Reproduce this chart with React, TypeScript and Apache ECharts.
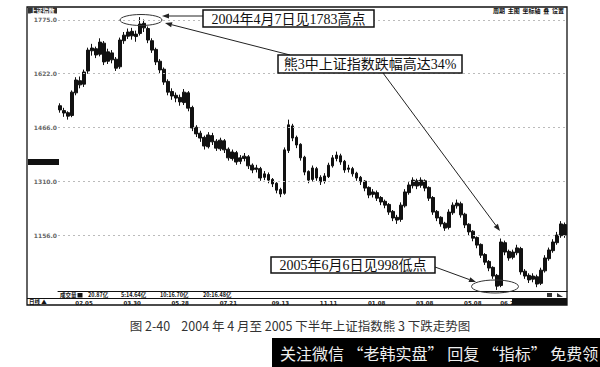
import React, { useEffect, useRef } from "react";
import * as echarts from "echarts";

// y-axis tick labels (index points)
const yTicks = [1775, 1622, 1466, 1310, 1156];
// x-axis date labels and the candle index where each one sits
const dateLabels = ["02.05", "03.30", "05.28", "07.21", "09.13", "11.11", "01.08", "03.08", "05.08", "06.28"];
const dateIndex = [6, 18, 30, 42, 55, 67, 79, 91, 103, 112];
// volume info row
const volTexts = ["成交量", "20.87亿", "5:14.64亿", "10:16.70亿", "20:16.48亿"];
// candles: [open, close, low, high]
const candles: number[][] = [
  [1528, 1516, 1508, 1535], [1514, 1507, 1496, 1522], [1508, 1498, 1488, 1512], [1500, 1567, 1495, 1572],
  [1565, 1602, 1558, 1610], [1600, 1588, 1578, 1612], [1590, 1625, 1582, 1632], [1628, 1688, 1620, 1695],
  [1686, 1694, 1672, 1706], [1692, 1674, 1665, 1698], [1676, 1711, 1670, 1722], [1708, 1654, 1645, 1714],
  [1656, 1683, 1648, 1692], [1680, 1660, 1650, 1688], [1662, 1636, 1628, 1668], [1640, 1717, 1634, 1724],
  [1715, 1731, 1706, 1740], [1728, 1740, 1720, 1750], [1742, 1729, 1718, 1752], [1727, 1734, 1712, 1744],
  [1736, 1763, 1730, 1783], [1765, 1752, 1740, 1776], [1750, 1717, 1708, 1756], [1715, 1688, 1680, 1722],
  [1690, 1654, 1645, 1695], [1656, 1631, 1622, 1662], [1633, 1596, 1588, 1638], [1598, 1567, 1558, 1604],
  [1569, 1556, 1545, 1578], [1558, 1550, 1538, 1566], [1552, 1539, 1528, 1560], [1537, 1567, 1530, 1576],
  [1565, 1521, 1512, 1570], [1523, 1464, 1455, 1528], [1466, 1447, 1438, 1472], [1449, 1435, 1424, 1456],
  [1437, 1412, 1402, 1442], [1410, 1444, 1405, 1452], [1442, 1424, 1415, 1450], [1426, 1406, 1398, 1432],
  [1404, 1429, 1398, 1436], [1427, 1401, 1392, 1432], [1403, 1378, 1370, 1408], [1376, 1395, 1370, 1402],
  [1393, 1366, 1358, 1398], [1368, 1378, 1360, 1386], [1376, 1383, 1368, 1392], [1381, 1355, 1346, 1386],
  [1357, 1343, 1334, 1362], [1345, 1349, 1336, 1358], [1347, 1320, 1312, 1352], [1322, 1332, 1314, 1340],
  [1330, 1314, 1305, 1336], [1316, 1303, 1294, 1320], [1305, 1285, 1276, 1308], [1287, 1274, 1265, 1292],
  [1276, 1401, 1272, 1408], [1399, 1473, 1392, 1488], [1470, 1435, 1426, 1476], [1437, 1415, 1406, 1442],
  [1417, 1378, 1370, 1420], [1380, 1337, 1328, 1384], [1339, 1314, 1305, 1342], [1316, 1349, 1310, 1356],
  [1347, 1320, 1312, 1352], [1322, 1309, 1300, 1328], [1311, 1326, 1304, 1334], [1324, 1357, 1320, 1364],
  [1355, 1378, 1350, 1386], [1376, 1386, 1368, 1396], [1384, 1366, 1358, 1390], [1368, 1343, 1335, 1372],
  [1345, 1349, 1336, 1358], [1347, 1332, 1324, 1352], [1334, 1320, 1312, 1338], [1322, 1309, 1300, 1326],
  [1311, 1291, 1282, 1314], [1293, 1271, 1262, 1296], [1273, 1280, 1264, 1288], [1278, 1262, 1254, 1284],
  [1264, 1251, 1242, 1268], [1253, 1242, 1233, 1258], [1244, 1222, 1214, 1248], [1224, 1205, 1196, 1228],
  [1207, 1199, 1188, 1214], [1201, 1242, 1194, 1250], [1240, 1280, 1235, 1288], [1278, 1300, 1272, 1308],
  [1298, 1314, 1290, 1322], [1312, 1297, 1288, 1318], [1299, 1314, 1292, 1322], [1312, 1291, 1282, 1316],
  [1293, 1262, 1254, 1296], [1264, 1222, 1214, 1268], [1224, 1205, 1196, 1228], [1207, 1188, 1180, 1210],
  [1190, 1176, 1168, 1194], [1178, 1222, 1172, 1230], [1220, 1242, 1214, 1250], [1240, 1248, 1232, 1258],
  [1246, 1214, 1206, 1252], [1216, 1185, 1176, 1220], [1187, 1165, 1156, 1190], [1167, 1147, 1138, 1170],
  [1149, 1127, 1118, 1152], [1129, 1098, 1090, 1132], [1100, 1078, 1070, 1104], [1080, 1061, 1052, 1084],
  [1063, 1038, 1030, 1066], [1040, 1009, 998, 1044], [1011, 1136, 1006, 1146], [1134, 1107, 1098, 1140],
  [1109, 1090, 1082, 1114], [1092, 1107, 1086, 1114], [1105, 1119, 1098, 1128], [1117, 1050, 1042, 1122],
  [1052, 1038, 1030, 1058], [1040, 1027, 1018, 1046], [1029, 1038, 1020, 1046], [1036, 1015, 1006, 1042],
  [1017, 1055, 1012, 1062], [1053, 1090, 1048, 1098], [1088, 1113, 1082, 1120], [1111, 1136, 1105, 1144],
  [1134, 1156, 1128, 1165], [1154, 1188, 1148, 1196], [1186, 1156, 1148, 1192],
];

const CJK = '"Noto Sans CJK SC", "Noto Sans", sans-serif';
const SERIF = '"Liberation Serif", "Noto Sans CJK SC", serif';

function arrow(x1: number, y1: number, x2: number, y2: number) {
  const a = Math.atan2(y2 - y1, x2 - x1);
  const len = 7, w = 2.6;
  const bx = x2 - len * Math.cos(a), by = y2 - len * Math.sin(a);
  const px = -Math.sin(a) * w, py = Math.cos(a) * w;
  return [
    { type: "line", z: 20, shape: { x1, y1, x2: bx, y2: by }, style: { stroke: "#222", lineWidth: 1 } },
    { type: "polygon", z: 20, shape: { points: [[x2, y2], [bx + px, by + py], [bx - px, by - py]] }, style: { fill: "#222" } },
  ];
}

function box(x: number, y: number, w: number, h: number, text: string) {
  return [
    { type: "rect", z: 20, shape: { x, y, width: w, height: h }, style: { fill: "#fff", stroke: "#111", lineWidth: 1.5 } },
    {
      type: "text", z: 21, x: x + w / 2, y: y + h / 2 + 0.5,
      style: { text, fill: "#111", font: `14px ${SERIF}`, align: "center", verticalAlign: "middle" },
    },
  ];
}

export default function App() {
  const ref = useRef<HTMLDivElement>(null);
  useEffect(() => {
    document.body.style.margin = "0";
    const chart = echarts.init(ref.current!, undefined, { renderer: "svg" });
    const cats = candles.map((_, i) => "c" + i);
    const volX = [60, 88, 121, 160, 203];
    const graphic: any[] = [
      { type: "rect", z: 5, shape: { x: 27, y: 7, width: 540, height: 298 }, style: { fill: "none", stroke: "#111", lineWidth: 1.3 } },
      { type: "line", z: 5, shape: { x1: 27, y1: 298.5, x2: 567, y2: 298.5 }, style: { stroke: "#111", lineWidth: 1 } },
      { type: "rect", z: 6, shape: { x: 28, y: 7.5, width: 29, height: 6 }, style: { fill: "#333" } },
      { type: "text", z: 7, x: 42.5, y: 10.8, style: { text: "上证指数", fill: "#fff", font: `bold 6px ${CJK}`, align: "center", verticalAlign: "middle" } },
      { type: "text", z: 7, x: 564, y: 10.5, style: { text: "周期  主图  坐标轴  叠  设置", fill: "#111", font: `bold 6px ${CJK}`, align: "right", verticalAlign: "middle" } },
      { type: "rect", z: 6, shape: { x: 28, y: 159, width: 31, height: 6 }, style: { fill: "#111" } },
      ...volTexts.map((t, k) => ({
        type: "text", z: 7, x: volX[k], y: 295.3,
        style: { text: t, fill: "#111", font: `bold 5.5px ${CJK}`, align: "left", verticalAlign: "middle" },
      })),
      { type: "rect", z: 7, shape: { x: 77.5, y: 293, width: 5, height: 4.5 }, style: { fill: "#111" } },
      { type: "text", z: 7, x: 29, y: 302, style: { text: "日线 ▲", fill: "#111", font: `bold 5.5px ${CJK}`, align: "left", verticalAlign: "middle" } },
      { type: "rect", z: 30, shape: { x: 512, y: 299, width: 55, height: 6 }, style: { fill: "#111" } },
      { type: "rect", z: 7, shape: { x: 547, y: 293, width: 5, height: 4 }, style: { fill: "#333" } },
      { type: "polygon", z: 7, shape: { points: [[557, 293], [563, 297], [557, 297]] }, style: { fill: "#333" } },
      { type: "ellipse", z: 20, shape: { cx: 141, cy: 20, rx: 21, ry: 5.5 }, style: { fill: "none", stroke: "#333", lineWidth: 1 } },
      { type: "ellipse", z: 20, shape: { cx: 495, cy: 286.5, rx: 23.5, ry: 6.5 }, style: { fill: "none", stroke: "#333", lineWidth: 1 } },
      ...arrow(203, 16, 162, 16),
      ...arrow(290, 55, 165, 23),
      ...arrow(383, 73, 500, 231),
      ...arrow(435, 267, 476, 282),
      ...box(203, 10, 171, 17, "2004年4月7日见1783高点"),
      ...box(278, 55, 184, 18, "熊3中上证指数跌幅高达34%"),
      ...box(271, 257, 164, 16, "2005年6月6日见998低点"),
      {
        type: "text", z: 10, x: 300, y: 325,
        style: { text: "图 2-40    2004 年 4 月至 2005 下半年上证指数熊 3 下跌走势图", fill: "#333", font: `12.5px ${CJK}`, align: "center", verticalAlign: "middle" },
      },
      { type: "rect", z: 10, shape: { x: 272, y: 338, width: 328, height: 29 }, style: { fill: "#000" } },
      {
        type: "text", z: 11, x: 280, y: 353,
        style: { text: "关注微信 “老韩实盘” 回复 “指标” 免费领", fill: "#eee", font: `16px ${CJK}`, align: "left", verticalAlign: "middle" },
      },
    ];
    chart.setOption({
      animation: false,
      backgroundColor: "#fff",
      grid: { left: 58, top: 7, width: 509, height: 284 },
      xAxis: {
        type: "category",
        data: cats,
        boundaryGap: true,
        axisLine: { show: true, lineStyle: { color: "#111", width: 1 } },
        axisTick: { show: false },
        splitLine: { show: false },
        axisLabel: {
          interval: (i: number) => dateIndex.indexOf(i) >= 0,
          formatter: (_v: string, i: number) => {
            const k = dateIndex.indexOf(i);
            return k >= 0 ? dateLabels[k] : "";
          },
          margin: 9,
          fontSize: 5.5,
          fontWeight: "bold",
          color: "#222",
          fontFamily: "DejaVu Sans",
        },
      },
      yAxis: {
        type: "value",
        min: 995,
        max: 1812,
        show: true,
        axisLine: { show: false },
        axisTick: { show: false },
        axisLabel: { show: false },
        splitLine: { show: false },
      },
      series: [
        {
          type: "candlestick",
          data: candles,
          barWidth: 3.3,
          itemStyle: { color: "#111", color0: "#111", borderColor: "#111", borderColor0: "#111", borderWidth: 1 },
          markLine: {
            silent: true,
            symbol: "none",
            animation: false,
            lineStyle: { type: [2, 3], color: "#bbb", width: 1 },
            label: {
              show: true,
              position: "start",
              distance: 1,
              formatter: (p: any) => Number(p.value).toFixed(1),
              fontSize: 6,
              fontWeight: "bold",
              color: "#666",
              fontFamily: "DejaVu Sans",
            },
            data: yTicks.map((v) => ({ yAxis: v })),
          },
        },
      ],
      graphic,
    });
    return () => chart.dispose();
  }, []);
  return <div ref={ref} style={{ position: "fixed", left: 0, top: 0, width: 600, height: 367, background: "#fff" }} />;
}
